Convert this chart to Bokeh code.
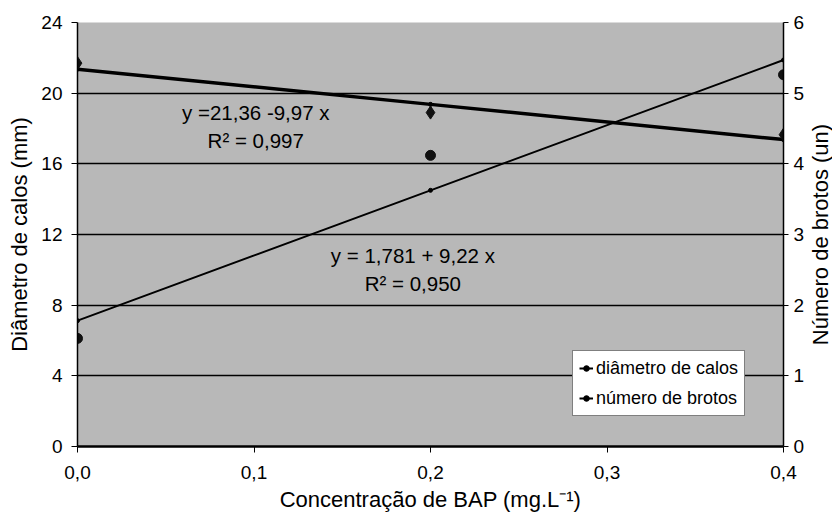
import math
from bokeh.plotting import figure
from bokeh.models import (Range1d, LinearAxis, FixedTicker, Legend, LegendItem,
                          ColumnDataSource, Label)
from bokeh.core.properties import value
from bokeh.embed import file_html
from bokeh.resources import INLINE

# ---- data ----
bap = [0.0, 0.2, 0.4]
diametro_obs = [21.7, 18.9, 17.65]          # mm (left axis)
brotos_obs = [1.53, 4.12, 5.26]             # un (right axis)
diam_coef = [21.36, -9.97]                  # y = a + b x
brot_coef = [1.781, 9.22]
x_ticks = [0.0, 0.1, 0.2, 0.3, 0.4]
x_tick_labels = ["0,0", "0,1", "0,2", "0,3", "0,4"]
y_left_ticks = [0, 4, 8, 12, 16, 20, 24]
y_right_ticks = [0, 1, 2, 3, 4, 5, 6]
eq_diam = ["y =21,36 -9,97 x", "R\u00b2 = 0,997"]
eq_brot = ["y = 1,781 + 9,22 x", "R\u00b2 = 0,950"]
legend_labels = ["diâmetro de calos", "número de brotos"]
x_label = "Concentração de BAP (mg.L\u207b\u00b9)"
y_label = "Diâmetro de calos (mm)"
y2_label = "Número de brotos (un)"

FONT = "Liberation Sans"

diam_fit = [diam_coef[0] + diam_coef[1] * x for x in bap]
brot_fit = [brot_coef[0] + brot_coef[1] * x for x in bap]

p = figure(width=832, height=517, output_backend="svg", toolbar_location=None,
           x_range=Range1d(0, 0.4), y_range=Range1d(0, 24),
           min_border_left=77, min_border_right=49, min_border_top=22,
           min_border_bottom=71)
p.extra_y_ranges = {"brotos": Range1d(0, 6)}
p.background_fill_color = "#b8b8b8"
p.border_fill_color = "white"
p.outline_line_color = None

# axes
p.xaxis.ticker = FixedTicker(ticks=x_ticks)
p.xaxis.major_label_overrides = {t: l for t, l in zip(x_ticks, x_tick_labels)}
p.xaxis.axis_label = x_label
p.yaxis.ticker = FixedTicker(ticks=y_left_ticks)
p.yaxis.axis_label = y_label

ra = LinearAxis(y_range_name="brotos", ticker=FixedTicker(ticks=y_right_ticks))
p.add_layout(ra, "right")

for ax in [p.xaxis[0], p.yaxis[0], ra]:
    ax.axis_line_color = "black"
    ax.axis_line_width = 1.5
    ax.major_tick_line_color = "black"
    ax.major_tick_out = 6
    ax.major_tick_in = 0
    ax.minor_tick_line_color = None
    ax.major_label_text_font = FONT
    ax.major_label_text_font_size = "19px"
    ax.major_label_text_color = "black"
    ax.axis_label_text_font = FONT
    ax.axis_label_text_font_size = "22px"
    ax.axis_label_text_font_style = "normal"
    ax.axis_label_text_color = "black"
p.xaxis.axis_line_width = 2.5
p.xaxis.major_label_standoff = 13
p.xaxis.axis_label_standoff = 5
p.yaxis.major_label_standoff = 9
p.yaxis.axis_label_standoff = 6
ra.major_tick_out = 5
ra.major_label_standoff = 5

# right axis title, reading bottom-to-top like the left one
lab2 = Label(x=13, y=212, x_units="screen", y_units="screen",
             text=y2_label, angle=90, angle_units="deg",
             text_align="center", text_baseline="middle",
             text_font=FONT, text_font_size="22px", text_color="black")
p.add_layout(lab2, "right")

p.xgrid.grid_line_color = None
p.ygrid.ticker = FixedTicker(ticks=y_left_ticks)
p.ygrid.grid_line_color = "black"
p.ygrid.grid_line_width = 1.5

# fitted lines with small markers
l1 = p.line(bap, diam_fit, line_color="black", line_width=3.5)
m1 = p.scatter(bap, diam_fit, size=4, color="black")
l2 = p.line(bap, brot_fit, line_color="black", line_width=2, y_range_name="brotos")
m2 = p.scatter(bap, brot_fit, size=4, color="black", y_range_name="brotos")

# observed points
p.scatter(bap, diametro_obs, marker="diamond", size=13, color="#111111")
p.scatter(bap, brotos_obs, marker="circle", size=10, color="#111111",
          y_range_name="brotos")

# equations
txt = ColumnDataSource(dict(
    x=[0.101, 0.101, 0.19, 0.19],
    y=[18.9, 17.3, 10.8, 9.2],
    t=eq_diam + eq_brot,
))
p.text(x="x", y="y", text="t", source=txt, text_font=value(FONT),
       text_font_size="20.5px", text_align="center", text_baseline="middle",
       text_color="black")

legend = Legend(items=[LegendItem(label=legend_labels[0], renderers=[l2, m2]),
                       LegendItem(label=legend_labels[1], renderers=[l2, m2])],
                location=(495, 30), orientation="vertical")
legend.label_text_font = FONT
legend.label_text_font_size = "18px"
legend.label_text_color = "black"
legend.glyph_width = 14
legend.label_standoff = 3
legend.padding = 6
legend.spacing = 8
legend.label_height = 22
legend.glyph_height = 22
legend.margin = 0
legend.border_line_color = "black"
legend.border_line_width = 1.5
legend.background_fill_color = "white"
legend.background_fill_alpha = 1
p.add_layout(legend, "center")

open("out.html", "w").write(file_html(p, INLINE))
